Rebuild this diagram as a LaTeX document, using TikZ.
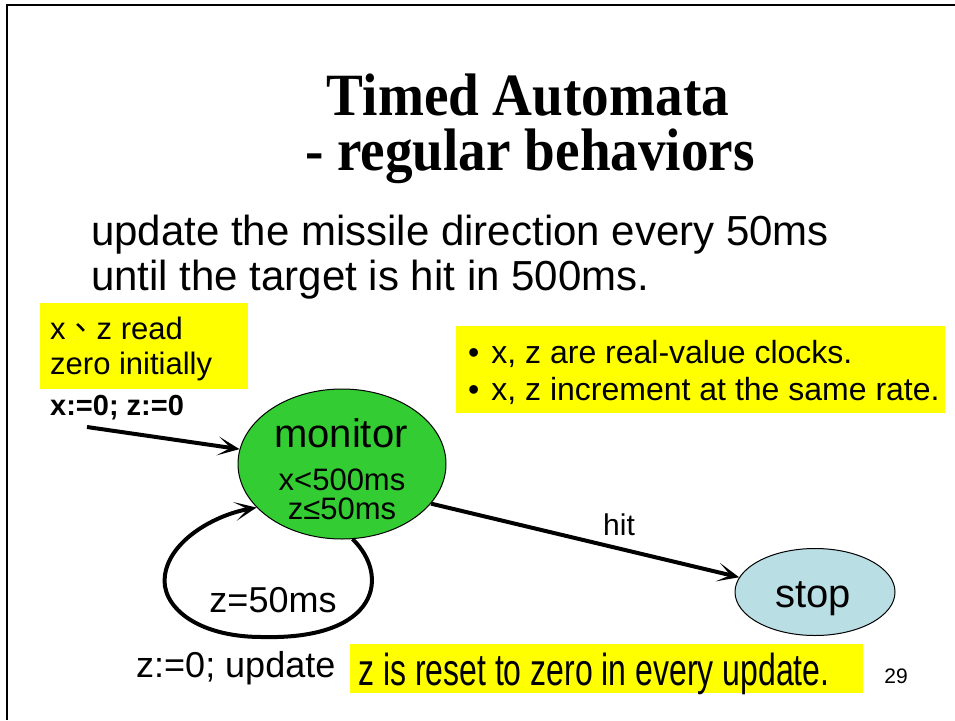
\documentclass[tikz,border=0pt]{standalone}
\usepackage{fontspec}
\usepackage{graphicx}
\setmainfont{Liberation Sans}
\newfontfamily\titlefont{Liberation Serif}
\newfontfamily\cjk{Noto Sans CJK TC}
\usetikzlibrary{shapes.geometric,arrows.meta}
\newcommand\fsz[1]{\fontsize{#1}{#1}\selectfont}

\definecolor{hilite}{RGB}{255,255,0}
\definecolor{stategreen}{RGB}{51,204,51}
\definecolor{stopblue}{RGB}{185,223,228}

\begin{document}
\begin{tikzpicture}[x=1pt,y=-1pt,
  txt/.style={inner sep=0pt, anchor=base},
  ltxt/.style={inner sep=0pt, anchor=base west},
  statenode/.style={ellipse, draw=black, line width=1pt, inner sep=0pt},
  note/.style={rectangle, fill=hilite, inner sep=0pt, anchor=north west},
  edge/.style={line width=4pt, -{Stealth[length=22pt,width=19pt,inset=13pt]}}
]
\useasboundingbox (0,0) rectangle (955,720);

% slide frame
\draw[line width=2.5pt] (7,720) -- (7,5) -- (955,5);

% title
\node[txt] (title1) at (528,115) {\scalebox{0.92}[1]{\titlefont\bfseries\fsz{60}Timed Automata}};
\node[txt] (title2) at (530,170) {\scalebox{0.92}[1]{\titlefont\bfseries\fsz{60}- regular behaviors}};

% task description
\node[ltxt] (desc1) at (91,245) {\fsz{42}update the missile direction every 50ms};
\node[ltxt] (desc2) at (91,290) {\fsz{42}until the target is hit in 500ms.};

% yellow notes
\node[note, minimum width=208pt, minimum height=86pt] (initnote) at (40,303) {};
\node[ltxt] (initnote1) at (50,339) {\fsz{31}x{\cjk 、}z read};
\node[ltxt] (initnote2) at (50,374) {\fsz{31}zero initially};

\node[note, minimum width=489pt, minimum height=87pt] (clocknote) at (456,326) {};
\node[ltxt] (clocknote1) at (468,363) {\fsz{32}\textbullet\hspace{12pt}x, z are real-value clocks.};
\node[ltxt] (clocknote2) at (468,400) {\fsz{32}\textbullet\hspace{12pt}x, z increment at the same rate.};

\node[note, minimum width=513pt, minimum height=49pt] (resetnote) at (350,644) {};
\node[ltxt] (resetnote1) at (358,685) {\scalebox{1}[1.4]{\fsz{32}z is reset to zero in every update.}};

% states
\node[statenode, fill=stategreen, minimum width=208pt, minimum height=150pt] (monitor) at (342,464) {};
\node[txt] (monname) at (341,447) {\fsz{40}monitor};
\node[txt] (moninv1) at (342,490) {\fsz{31}x<500ms};
\node[txt] (moninv2) at (342,519) {\fsz{31}z≤50ms};

\node[statenode, fill=stopblue, minimum width=160pt, minimum height=87pt] (stop) at (815,592) {};
\node[txt] (stopname) at (813,607) {\fsz{40}stop};

% initial edge
\coordinate (init) at (87,427);
\node[ltxt] (initact) at (50,415) {\fsz{29}\bfseries x:=0; z:=0};
\draw[edge] (init) -- (monitor);

% hit edge
\draw[edge] (monitor.-24) -- (stop.169);
\node[txt] (hitlbl) at (619,535) {\fsz{30}hit};

% update self-loop
\draw[edge] (monitor.-82) .. controls (390,575) and (380,640) .. (262,637)
  .. controls (195,637) and (160,605) .. (165,575)
  .. controls (170,540) and (215,515) .. (monitor.-153);
\node[txt] (guardlbl) at (273,612) {\fsz{36}z=50ms};
\node[ltxt] (actlbl) at (136,677) {\fsz{36}z:=0; update};

% page number
\node[txt] (pagenum) at (896,683) {\fsz{21}29};
\end{tikzpicture}
\end{document}
